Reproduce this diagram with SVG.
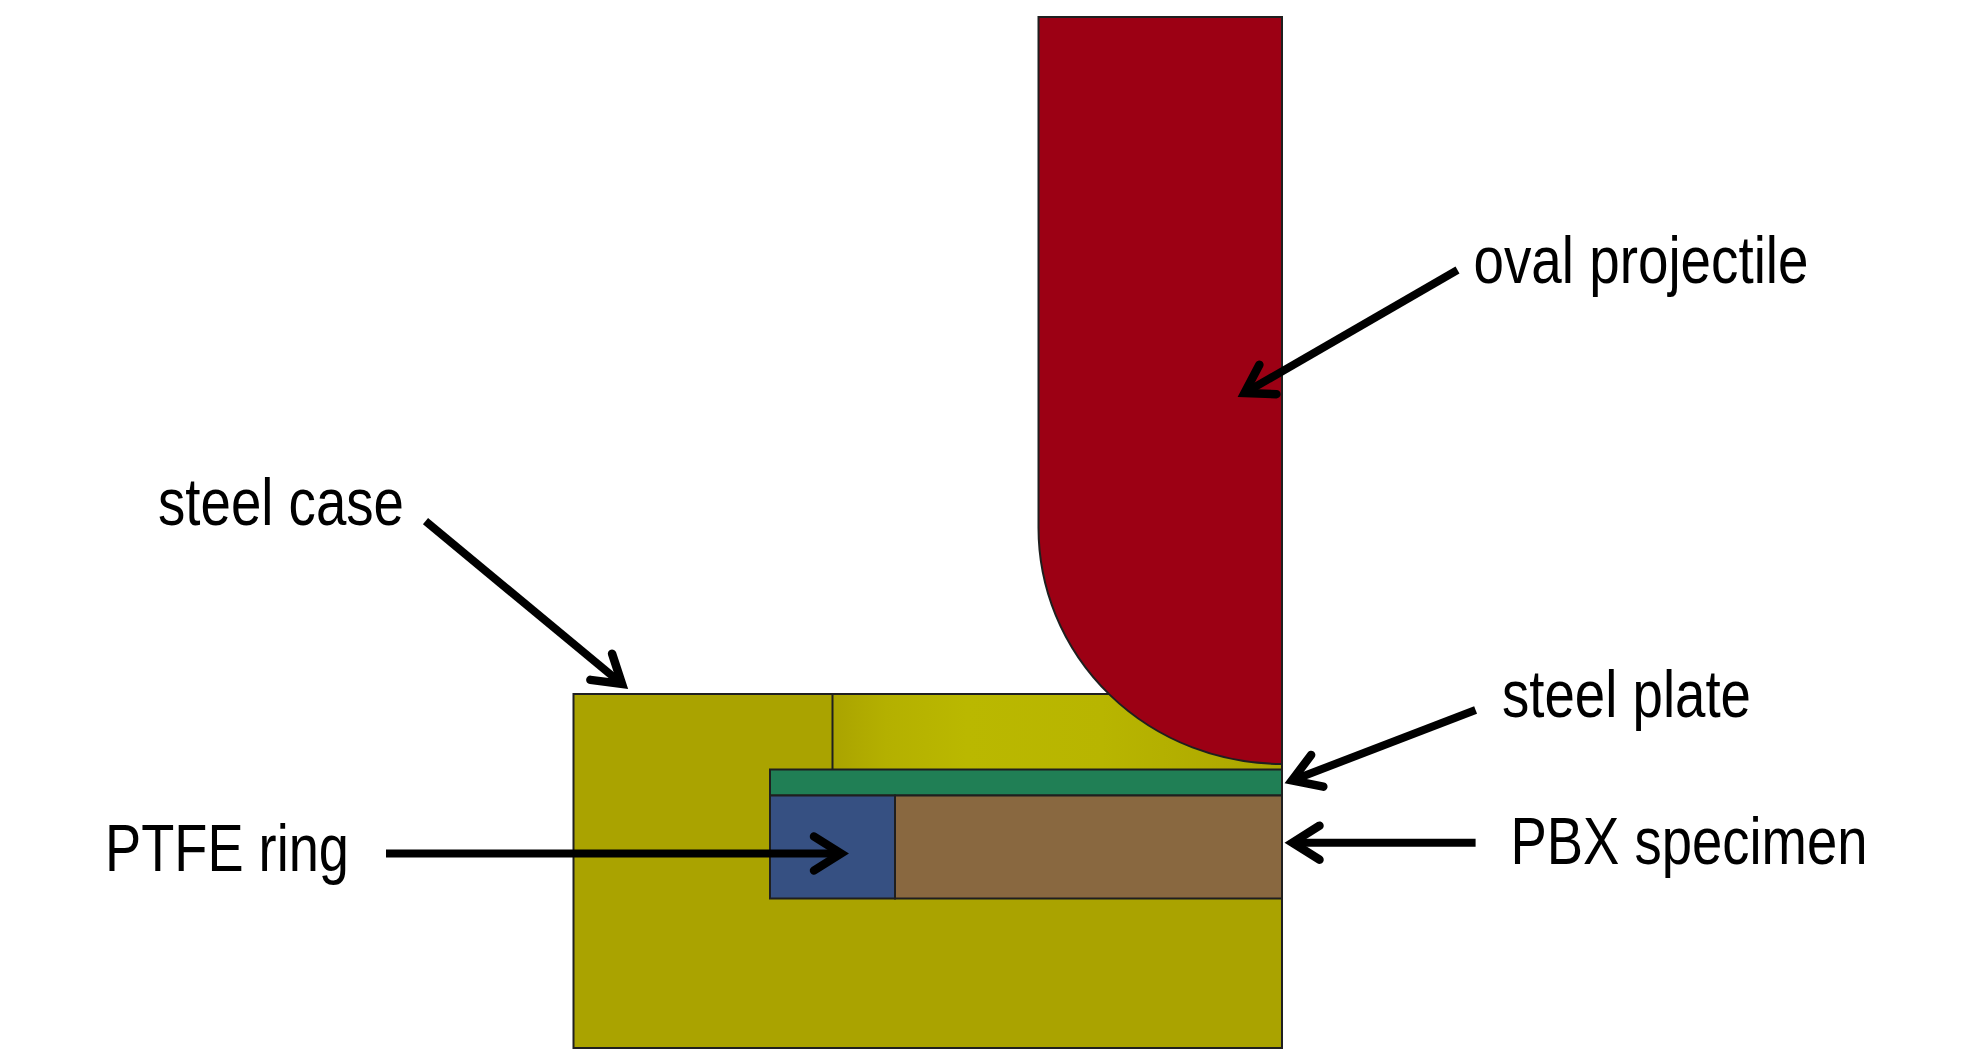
<svg xmlns="http://www.w3.org/2000/svg" width="1984" height="1063" viewBox="0 0 1984 1063">
<style>
.part{stroke:#1f1f1f;stroke-width:2}
.label{font-family:"Liberation Sans",Arial,sans-serif;font-size:67px;fill:#000}
.arrow{fill:none;stroke:#000;stroke-width:8;marker-end:url(#head)}
</style>
<defs>
<linearGradient id="upper" gradientUnits="userSpaceOnUse" x1="832" y1="0" x2="1282" y2="0">
<stop offset="0" stop-color="#aaa300"/>
<stop offset="0.12" stop-color="#b4b000"/>
<stop offset="0.3" stop-color="#bab800"/>
<stop offset="0.6" stop-color="#b8b500"/>
<stop offset="1" stop-color="#aca600"/>
</linearGradient>
<marker id="head" markerUnits="userSpaceOnUse" viewBox="-36 -23 48 46" refX="0" refY="0" markerWidth="48" markerHeight="46" orient="auto" overflow="visible">
<path d="M-27,-17 L0,0 L-27,17" fill="none" stroke="#000" stroke-width="8.500" stroke-linecap="round" stroke-linejoin="miter"/>
</marker>
</defs>
<rect width="1984" height="1063" fill="#fff"/>
<g id="steel-case">
<rect class="part" x="573.500" y="694" width="708.500" height="354" fill="#aaa300"/>
<rect x="832" y="695" width="449" height="75" fill="url(#upper)"/>
<line class="part" x1="832.500" y1="694" x2="832.500" y2="769"/>
</g>
<g id="oval-projectile">
<path class="part" d="M1038.500,17 H1282 V764 A243.500,236 0 0 1 1038.500,528 Z" fill="#9c0014"/>
</g>
<g id="steel-plate">
<rect class="part" x="770" y="769.500" width="512" height="26" fill="#207f55"/>
</g>
<g id="ptfe-ring">
<rect class="part" x="770" y="795.500" width="125" height="103" fill="#365082"/>
</g>
<g id="pbx-specimen">
<rect class="part" x="895" y="795.500" width="387" height="103" fill="#896840"/>
</g>
<g id="connectors">
<line class="arrow" x1="1457.500" y1="270" x2="1244.500" y2="393"/>
<line class="arrow" x1="425.500" y1="521.200" x2="622" y2="684"/>
<line class="arrow" x1="386" y1="853.500" x2="841" y2="853.500"/>
<line class="arrow" x1="1475.600" y1="710" x2="1292" y2="780.500"/>
<line class="arrow" x1="1475.600" y1="842.700" x2="1292.500" y2="842.700"/>
</g>
<g id="labels">
<text class="label" x="1473.500" y="283" textLength="335" lengthAdjust="spacingAndGlyphs">oval projectile</text>
<text class="label" x="158" y="525" textLength="246" lengthAdjust="spacingAndGlyphs">steel case</text>
<text class="label" x="105" y="871" textLength="244" lengthAdjust="spacingAndGlyphs">PTFE ring</text>
<text class="label" x="1502" y="717" textLength="249" lengthAdjust="spacingAndGlyphs">steel plate</text>
<text class="label" x="1510.500" y="864" textLength="357" lengthAdjust="spacingAndGlyphs">PBX specimen</text>
</g>
</svg>
